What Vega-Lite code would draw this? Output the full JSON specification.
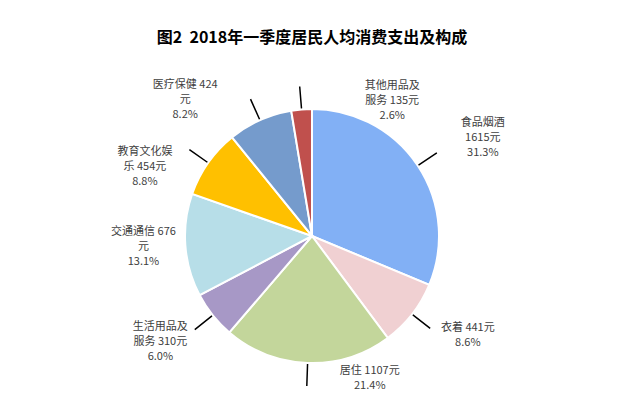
{
  "$schema": "https://vega.github.io/schema/vega-lite/v6.json",
  "autosize": "none",
  "padding": {"top": 66, "left": 6, "right": 0, "bottom": 0},
  "width": 612,
  "height": 340,
  "background": "white",
  "title": {
    "text": "图2\u00a0\u00a02018年一季度居民人均消费支出及构成",
    "font": "Noto Sans CJK SC",
    "fontSize": 16,
    "fontWeight": "bold",
    "color": "#000000",
    "anchor": "middle",
    "baseline": "bottom",
    "offset": 4
  },
  "config": {"view": {"stroke": null}},
  "data": {
    "values": [
      {"idx": 1, "category": "食品烟酒", "value": 1615, "label": "食品烟酒\n1615元\n31.3%"},
      {"idx": 2, "category": "衣着", "value": 441, "label": "衣着 441元\n8.6%"},
      {"idx": 3, "category": "居住", "value": 1107, "label": "居住 1107元\n21.4%"},
      {"idx": 4, "category": "生活用品及服务", "value": 310, "label": "生活用品及\n服务 310元\n6.0%"},
      {"idx": 5, "category": "交通通信", "value": 676, "label": "交通通信 676\n元\n13.1%"},
      {"idx": 6, "category": "教育文化娱乐", "value": 454, "label": "教育文化娱\n乐 454元\n8.8%"},
      {"idx": 7, "category": "医疗保健", "value": 424, "label": "医疗保健 424\n元\n8.2%"},
      {"idx": 8, "category": "其他用品及服务", "value": 135, "label": "其他用品及\n服务 135元\n2.6%"}
    ]
  },
  "encoding": {
    "theta": {"field": "value", "type": "quantitative", "stack": true},
    "order": {"field": "idx", "type": "quantitative"}
  },
  "layer": [
    {
      "mark": {"type": "arc", "radius": 127, "stroke": "white", "strokeWidth": 2},
      "encoding": {
        "color": {
          "field": "category",
          "type": "nominal",
          "legend": null,
          "scale": {
            "domain": ["食品烟酒", "衣着", "居住", "生活用品及服务", "交通通信", "教育文化娱乐", "医疗保健", "其他用品及服务"],
            "range": ["#82B0F5", "#F0D0D2", "#C3D69B", "#A798C6", "#B7DEE8", "#FFC000", "#759BCC", "#C0504D"]
          }
        }
      }
    },
    {
      "mark": {"type": "arc", "radius": 150, "radius2": 128, "padAngle": 3.1, "strokeWidth": 1.5, "fill": null, "clip": true},
      "encoding": {
        "stroke": {"condition": {"test": "datum.category === '交通通信'", "value": "transparent"}, "value": "#000000"}
      }
    },
    {
      "mark": {"type": "text", "clip": true, "radius": 180, "dx": 21, "dy": -13, "align": "center", "baseline": "middle", "lineBreak": "\n", "lineHeight": 15, "fontSize": 11, "font": "Noto Sans CJK SC", "color": "#404040"},
      "encoding": {"text": {"condition": {"test": "datum.category === '食品烟酒'", "field": "label"}, "value": ""}}
    },
    {
      "mark": {"type": "text", "clip": true, "radius": 180, "dx": 14, "dy": -18.5, "align": "center", "baseline": "middle", "lineBreak": "\n", "lineHeight": 15, "fontSize": 11, "font": "Noto Sans CJK SC", "color": "#404040"},
      "encoding": {"text": {"condition": {"test": "datum.category === '衣着'", "field": "label"}, "value": ""}}
    },
    {
      "mark": {"type": "text", "clip": true, "radius": 180, "dx": 64, "dy": -45, "align": "center", "baseline": "middle", "lineBreak": "\n", "lineHeight": 15, "fontSize": 11, "font": "Noto Sans CJK SC", "color": "#404040"},
      "encoding": {"text": {"condition": {"test": "datum.category === '居住'", "field": "label"}, "value": ""}}
    },
    {
      "mark": {"type": "text", "clip": true, "radius": 180, "dx": -11, "dy": -21, "align": "center", "baseline": "middle", "lineBreak": "\n", "lineHeight": 15, "fontSize": 11, "font": "Noto Sans CJK SC", "color": "#404040"},
      "encoding": {"text": {"condition": {"test": "datum.category === '生活用品及服务'", "field": "label"}, "value": ""}}
    },
    {
      "mark": {"type": "text", "clip": true, "radius": 180, "dx": 11, "dy": -17, "align": "center", "baseline": "middle", "lineBreak": "\n", "lineHeight": 15, "fontSize": 11, "font": "Noto Sans CJK SC", "color": "#404040"},
      "encoding": {"text": {"condition": {"test": "datum.category === '交通通信'", "field": "label"}, "value": ""}}
    },
    {
      "mark": {"type": "text", "clip": true, "radius": 180, "dx": -20, "dy": 20, "align": "center", "baseline": "middle", "lineBreak": "\n", "lineHeight": 15, "fontSize": 11, "font": "Noto Sans CJK SC", "color": "#404040"},
      "encoding": {"text": {"condition": {"test": "datum.category === '教育文化娱乐'", "field": "label"}, "value": ""}}
    },
    {
      "mark": {"type": "text", "clip": true, "radius": 180, "dx": -53, "dy": 13, "align": "center", "baseline": "middle", "lineBreak": "\n", "lineHeight": 15, "fontSize": 11, "font": "Noto Sans CJK SC", "color": "#404040"},
      "encoding": {"text": {"condition": {"test": "datum.category === '医疗保健'", "field": "label"}, "value": ""}}
    },
    {
      "mark": {"type": "text", "clip": true, "radius": 180, "dx": 95, "dy": 29, "align": "center", "baseline": "middle", "lineBreak": "\n", "lineHeight": 15, "fontSize": 11, "font": "Noto Sans CJK SC", "color": "#404040"},
      "encoding": {"text": {"condition": {"test": "datum.category === '其他用品及服务'", "field": "label"}, "value": ""}}
    }
  ]
}
